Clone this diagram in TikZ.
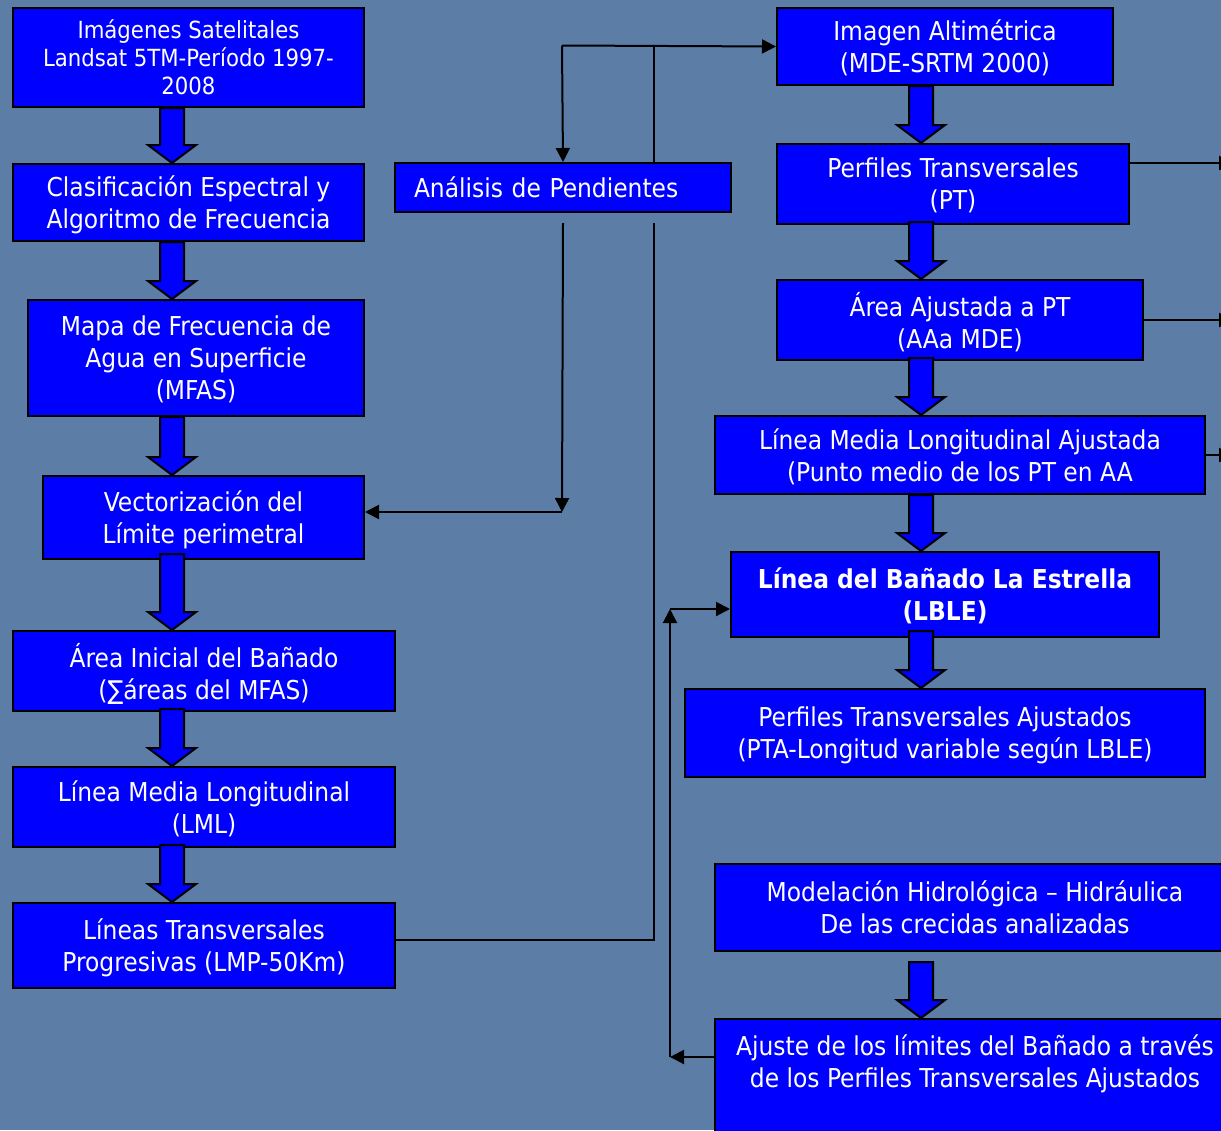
\documentclass[tikz,border=0pt]{standalone}
\usepackage{fontspec}
\setmainfont{DejaVu Sans Condensed}
\usetikzlibrary{arrows.meta,calc}

\definecolor{fondo}{RGB}{92,126,166}
\definecolor{azul}{RGB}{0,0,255}

\newcommand{\flecha}[2]{%
  \path[fill=azul,draw=black,line width=1pt] let \p1=(#1), \p2=(#2) in
    (\x1-6pt,\y1) -- (\x1+6pt,\y1) -- (\x1+6pt,\y2+9pt) -- (\x1+12pt,\y2+9pt)
    -- (\x1,\y2) -- (\x1-12pt,\y2+9pt) -- (\x1-6pt,\y2+9pt) -- cycle;}

\begin{document}
\begin{tikzpicture}[x=0.5pt,y=-0.5pt]

\tikzstyle{caja}=[draw=black,fill=azul,line width=1pt,text=white,anchor=north west,inner sep=0pt,align=center,text depth=0pt,font=\fontsize{13}{16}\selectfont]
\tikzstyle{linea}=[line width=1pt]
\tikzstyle{flechita}=[line width=1pt,-{Triangle[length=7pt,width=7pt]}]

\fill[fondo] (0,0) rectangle (1221,1130);
\clip (0,0) rectangle (1221,1130);

\node[caja,minimum width=175.5pt,minimum height=49.5pt,font=\fontsize{11.8}{14}\selectfont] (sat) at (12,7) {Imágenes Satelitales\\Landsat 5TM-Período 1997-\\2008};
\node[caja,minimum width=175.5pt,minimum height=38.5pt] (clas) at (12,163) {Clasificación Espectral y\\Algoritmo de Frecuencia};
\node[caja,minimum width=168pt,minimum height=58pt] (mapa) at (27,299) {Mapa de Frecuencia de\\Agua en Superficie\\(MFAS)};
\node[caja,minimum width=160.5pt,minimum height=41.5pt] (vec) at (42,475) {Vectorización del\\Límite perimetral};
\node[caja,minimum width=191pt,minimum height=40pt] (area) at (12,630) {Área Inicial del Bañado\\(∑áreas del MFAS)};
\node[caja,minimum width=191pt,minimum height=40pt] (lml) at (12,766) {Línea Media Longitudinal\\(LML)};
\node[caja,minimum width=191pt,minimum height=42.5pt] (ltp) at (12,902) {Líneas Transversales\\Progresivas (LMP-50Km)};

\node[caja,minimum width=168pt,minimum height=24.5pt,text width=149pt,align=left,inner xsep=9.5pt] (pend) at (394,162) {Análisis de Pendientes};

\node[caja,minimum width=168pt,minimum height=38.5pt] (img) at (776,7) {Imagen Altimétrica\\(MDE-SRTM 2000)};
\node[caja,minimum width=176pt,minimum height=40pt] (pt) at (776,143) {Perfiles Transversales\\(PT)};
\node[caja,minimum width=183pt,minimum height=40pt] (aa) at (776,279) {Área Ajustada a PT\\(AAa MDE)};
\node[caja,minimum width=245pt,minimum height=39pt] (lmla) at (714,415) {Línea Media Longitudinal Ajustada\\(Punto medio de los PT en AA};
\node[caja,minimum width=214pt,minimum height=42.5pt,font=\bfseries\fontsize{13}{16}\selectfont] (lble) at (730,551) {Línea del Bañado La Estrella\\(LBLE)};
\node[caja,minimum width=260pt,minimum height=44pt] (pta) at (684,688) {Perfiles Transversales Ajustados\\(PTA-Longitud variable según LBLE)};
\node[caja,minimum width=260pt,minimum height=43.5pt] (mod) at (714,863) {Modelación Hidrológica – Hidráulica\\De las crecidas analizadas};
\node[caja,minimum width=260pt,inner ysep=8pt,text depth=40pt] (aju) at (714,1018) {Ajuste de los límites del Bañado a través\\de los Perfiles Transversales Ajustados};

\coordinate (izq) at (172,0);
\coordinate (der) at (921,0);
\flecha{sat.south -| izq}{clas.north -| izq}
\flecha{clas.south -| izq}{mapa.north -| izq}
\flecha{mapa.south -| izq}{vec.north -| izq}
\flecha{[yshift=3pt]vec.south -| izq}{area.north -| izq}
\flecha{[yshift=1.5pt]area.south -| izq}{lml.north -| izq}
\flecha{[yshift=1.5pt]lml.south -| izq}{ltp.north -| izq}
\flecha{img.south -| der}{pt.north -| der}
\flecha{[yshift=1.5pt]pt.south -| der}{aa.north -| der}
\flecha{[yshift=1.5pt]aa.south -| der}{lmla.north -| der}
\flecha{lmla.south -| der}{lble.north -| der}
\flecha{[yshift=3.5pt]lble.south -| der}{pta.north -| der}
\flecha{[yshift=-5pt]mod.south -| der}{aju.north -| der}

\coordinate (arribaI) at (562,45.5);
\coordinate (arribaD) at (654,45.5);
\draw[flechita] (arribaI) -- (img.west);
\draw[flechita] (arribaI) -- (pend.north);
\draw[linea] (pend.north -| arribaD) -- (arribaD);

\coordinate (vecK) at (562,512);
\coordinate (ltpK) at (654,940);
\draw[flechita] ([yshift=-5pt]pend.south) -- (vecK);
\draw[flechita] (vecK) -- (vec.east |- vecK);
\draw[linea] ([yshift=-5pt]pend.south -| ltpK) -- (ltpK) -- (ltp.east |- ltpK);

\coordinate (ajuK) at (670,1057);
\coordinate (lbleK) at (670,609);
\draw[flechita] (aju.west |- ajuK) -- (ajuK);
\draw[flechita] (ajuK) -- (lbleK);
\draw[flechita] (lbleK) -- (lble.west |- lbleK);

\coordinate (borde) at (1233,0);
\draw[flechita] ([yshift=10.5pt]pt.east) -- ([yshift=10.5pt]pt.east -| borde);
\draw[flechita] (aa.east) -- (aa.east -| borde);
\draw[flechita] (lmla.east) -- (lmla.east -| borde);

\end{tikzpicture}
\end{document}
